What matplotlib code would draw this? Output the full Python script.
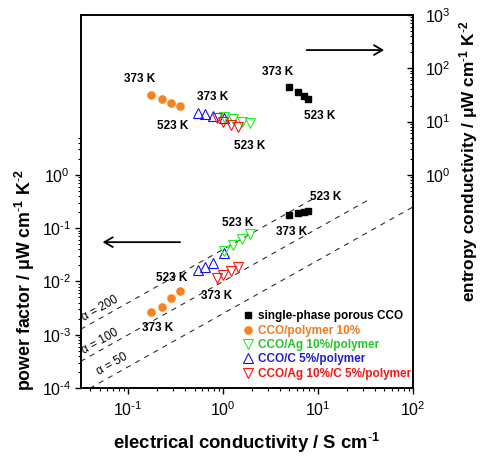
import matplotlib
matplotlib.use("Agg")
import matplotlib.pyplot as plt
from matplotlib.ticker import NullFormatter

plt.rcParams["font.family"] = ["Liberation Sans", "DejaVu Sans"]
plt.rcParams["mathtext.fontset"] = "custom"
plt.rcParams["mathtext.rm"] = "Liberation Sans"
plt.rcParams["mathtext.it"] = "Liberation Sans:italic"
plt.rcParams["mathtext.bf"] = "Liberation Sans:bold"

# ---- measured data (373 K -> 523 K) ----
# electrical conductivity, S/cm
sigma_cco = [4.97, 6.17, 7.08, 7.87]
sigma_poly = [0.174, 0.227, 0.284, 0.348]
sigma_ag = [1.02, 1.27, 1.57, 1.92]
sigma_c = [0.55, 0.652, 0.782, 1.03]
sigma_agc = [0.854, 1.0, 1.21, 1.42]

# power factor, uW cm^-1 K^-2
pf_cco = [0.176, 0.195, 0.203, 0.212]
pf_poly = [0.0027, 0.00335, 0.00482, 0.0066]
pf_ag = [0.0377, 0.0482, 0.0617, 0.0766]
pf_c = [0.0164, 0.0189, 0.0226, 0.0336]
pf_agc = [0.0114, 0.0132, 0.0157, 0.0189]

# entropy conductivity, uW cm^-1 K^-2
ent_cco = [43.7, 36.2, 30.5, 26.4]
ent_poly = [31.4, 26.4, 22.5, 19.5]
ent_ag = [12.3, 11.0, 9.9, 9.25]
ent_c = [14.6, 13.6, 12.7, 11.9]
ent_agc = [11.5, 9.9, 8.6, 7.8]

series_names = ["single-phase porous CCO", "CCO/polymer 10%", "CCO/Ag 10%/polymer",
                "CCO/C 5%/polymer", "CCO/Ag 10%/C 5%/polymer"]

# iso-Seebeck guide lines: PF = alpha^2 * sigma
alphas = [200, 100, 50]
alpha_sigma_start = [10 ** -1.5, 10 ** -1.5, 10 ** -1.5]
alpha_sigma_end = [9.0, 36.0, 100.0]
alpha_label_sigma = [0.0556, 0.0556, 0.0744]

x_ticks = [0.1, 1, 10, 100]
x_tick_labels = [r"$10^{\text{-}1}$", r"$10^{0}$", r"$10^{1}$", r"$10^{2}$"]
left_ticks = [1e-4, 1e-3, 1e-2, 1e-1, 1e0]
left_tick_labels = [r"$10^{\text{-}4}$", r"$10^{\text{-}3}$", r"$10^{\text{-}2}$",
                    r"$10^{\text{-}1}$", r"$10^{0}$"]
right_ticks = [1e0, 1e1, 1e2, 1e3]
right_tick_labels = [r"$10^{0}$", r"$10^{1}$", r"$10^{2}$", r"$10^{3}$"]

c_black = "#000000"
c_orange = "#F7821E"
c_green = "#22EE22"
c_blue = "#1010FF"
c_red = "#FF1414"
text_colors = ["#000000", "#F07A1C", "#26C426", "#2020CC", "#F01818"]

W, H = 481, 458
fig = plt.figure(figsize=(W / 100, H / 100), dpi=100)
ax = fig.add_axes([80.7 / W, 70 / H, 332.3 / W, 373 / H])
ax.set_xscale("log")
ax.set_yscale("log")
ax.set_xlim(10 ** -1.5, 100)
ax.set_ylim(1e-4, 1e3)

# guide lines
for a, s0, s1, sl, dy in zip(alphas, alpha_sigma_start, alpha_sigma_end,
                             alpha_label_sigma, [8, 7, 9]):
    k = a ** 2 * 1e-6
    ax.plot([s0, s1], [k * s0, k * s1], color="#222222", lw=0.75,
            ls=(0, (5, 5)), zorder=1)
    ax.annotate(f"α = {a}", xy=(sl, k * sl), xytext=(-4, dy),
                textcoords="offset pixels", rotation=29.3, rotation_mode="anchor",
                ha="center", va="center", fontsize=8.5)

tri_kw = dict(ls="none", mfc="none", mew=0.8, ms=7.2)

# power factor (lower group)
h_cco, = ax.plot(sigma_cco, pf_cco, "s", color=c_black, ms=5, ls="none", zorder=5)
h_poly, = ax.plot(sigma_poly, pf_poly, "o", color=c_orange, ms=6.2, mec="none",
                  ls="none", zorder=5)
h_c, = ax.plot(sigma_c, pf_c, "^", color=c_blue, zorder=3, **tri_kw)
h_ag, = ax.plot(sigma_ag, pf_ag, "v", color=c_green, zorder=4, **tri_kw)
h_agc, = ax.plot(sigma_agc, pf_agc, "v", color=c_red, zorder=4, **tri_kw)

# entropy conductivity (upper group)
ax.plot(sigma_cco, ent_cco, "s", color=c_black, ms=5, ls="none", zorder=5)
ax.plot(sigma_poly, ent_poly, "o", color=c_orange, ms=6.2, mec="none", ls="none", zorder=5)
ax.plot(sigma_c, ent_c, "^", color=c_blue, zorder=3, **tri_kw)
ax.plot(sigma_ag, ent_ag, "v", color=c_green, zorder=3.5, **tri_kw)
ax.plot(sigma_agc, ent_agc, "v", color=c_red, zorder=4, **tri_kw)

# temperature labels (offsets in pixels from the end points)
def temp_label(txt, x, y, dx, dy):
    ax.annotate(txt, xy=(x, y), xytext=(dx, dy), textcoords="offset pixels",
                ha="center", va="center", fontsize=8.5, fontweight="bold", zorder=6)

temp_label("373 K", sigma_poly[0], ent_poly[0], -11, 16)
temp_label("523 K", sigma_poly[-1], ent_poly[-1], -7, -20)
temp_label("373 K", sigma_c[0], ent_c[0], 14, 16)
temp_label("523 K", sigma_ag[-1], ent_ag[-1], 0, -23)
temp_label("373 K", sigma_cco[0], ent_cco[0], -12, 15)
temp_label("523 K", sigma_cco[-1], ent_cco[-1], 12, -17)

temp_label("523 K", sigma_poly[-1], pf_poly[-1], -8, 13)
temp_label("373 K", sigma_poly[0], pf_poly[0], 7, -16)
temp_label("523 K", sigma_ag[-1], pf_ag[-1], -12, 11)
temp_label("373 K", sigma_agc[0], pf_agc[0], 0, -18)
temp_label("373 K", sigma_cco[0], pf_cco[0], 2, -17)
temp_label("523 K", sigma_cco[-1], pf_cco[-1], 18, 14)

# arrows pointing to the relevant axis
arrow_kw = dict(arrowstyle="->,head_length=0.6,head_width=0.35", lw=1.3, color="k",
                shrinkA=0, shrinkB=0)
ax.annotate("", xy=(0.066, 0.391), xytext=(0.299, 0.391), xycoords="axes fraction",
            arrowprops=arrow_kw)
ax.annotate("", xy=(0.913, 0.906), xytext=(0.680, 0.906), xycoords="axes fraction",
            arrowprops=arrow_kw)

# legend
leg = ax.legend([h_cco, h_poly, h_ag, h_c, h_agc], series_names, loc="lower right",
                bbox_to_anchor=(0.994, 0.022), frameon=False, borderpad=0,
                borderaxespad=0, handlelength=0.8, handletextpad=0.4,
                labelspacing=0.2, prop=dict(weight="bold", size=8.5))
for t, c in zip(leg.get_texts(), text_colors):
    t.set_color(c)

# axes styling
for sp in ax.spines.values():
    sp.set_linewidth(1.2)
ax.set_xticks(x_ticks, x_tick_labels)
ax.set_xticks([k * 10 ** n for n in range(-2, 2) for k in range(2, 10)
               if 10 ** -1.5 <= k * 10 ** n <= 100], minor=True)
ax.xaxis.set_minor_formatter(NullFormatter())
ax.set_yticks(left_ticks, left_tick_labels)
ax.set_yticks([k * 10 ** n for n in range(-4, 0) for k in range(2, 10)] + [2, 3, 4, 5],
              minor=True)
ax.yaxis.set_minor_formatter(NullFormatter())
ax.tick_params(which="both", direction="out", top=False, right=False, labelsize=11.5)
ax.tick_params(which="major", length=4.1, width=1.0)
ax.tick_params(which="minor", length=2.4, width=0.8)
ax.tick_params(axis="x", pad=5)
ax.tick_params(axis="y", pad=13)
for lab in ax.get_yticklabels():
    lab.set_horizontalalignment("center")

ax2 = ax.twinx()
ax2.set_yscale("log")
ax2.set_ylim(ax.get_ylim())
ax2.set_yticks(right_ticks, right_tick_labels)
ax2.set_yticks([k * 10 ** n for n in range(0, 3) for k in range(2, 10)] +
               [0.4, 0.5, 0.6, 0.7, 0.8, 0.9], minor=True)
ax2.yaxis.set_minor_formatter(NullFormatter())
ax2.tick_params(which="both", direction="in", labelsize=11.5, pad=8.5)
ax2.tick_params(which="major", length=4.1, width=1.0)
ax2.tick_params(which="minor", length=2.4, width=0.8)
for sp in ax2.spines.values():
    sp.set_linewidth(1.2)

# axis titles
fig.text(246.7 / W, 1 - 443 / H, r"electrical conductivity / S cm$^{\mathbf{\text{-}1}}$",
         ha="center", va="center", fontsize=13.3, fontweight="bold")
fig.text(25 / W, 1 - 280 / H,
         r"power factor / μW cm$^{\mathbf{\text{-}1}}$ K$^{\mathbf{\text{-}2}}$",
         ha="center", va="center", rotation=90, fontsize=12.8, fontweight="bold")
fig.text(469 / W, 1 - 161 / H,
         r"entropy conductivity / μW cm$^{\mathbf{\text{-}1}}$ K$^{\mathbf{\text{-}2}}$",
         ha="center", va="center", rotation=90, fontsize=12.4, fontweight="bold")

fig.savefig("out.png", dpi=100)
